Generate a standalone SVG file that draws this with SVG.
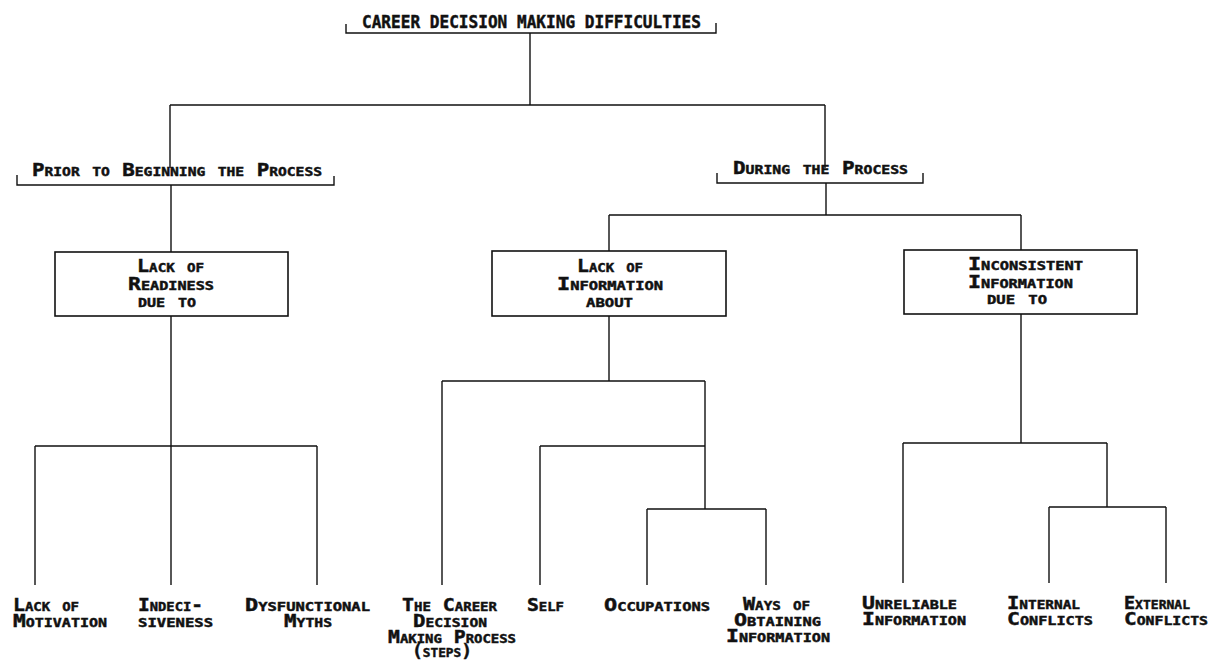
<svg xmlns="http://www.w3.org/2000/svg" width="1210" height="660" viewBox="0 0 1210 660">
<style>
text{font-family:"DejaVu Sans Mono","Liberation Mono",monospace;font-weight:bold;font-size:17px;font-variant:small-caps;fill:#111;stroke:#111;stroke-width:0.45}
.ln{fill:none;stroke:#111;stroke-width:1.4}
.box{fill:#fff;stroke:#111;stroke-width:1.6}
</style>
<rect width="1210" height="660" fill="#fff"/>
<g id="connectors" class="ln">
<path d="M530,33V105M170,105H825M170,105V168M825,105V168"/>
<path d="M171,185V252M171,316V446M35,446H317M35,446V585M171,446V585M317,446V585"/>
<path d="M826,183V215M609,215H1021M609,215V251M1021,215V250"/>
<path d="M609,316V381M442,381H705M442,381V585M705,381V509M540,446H705M540,446V585M647,509H766M647,509V585M766,509V585"/>
<path d="M1021,314V443M903,443H1107M903,443V583M1107,443V507M1049,507H1166M1049,507V583M1166,507V583"/>
</g>
<g id="root">
<text x="362" y="28" textLength="339" lengthAdjust="spacingAndGlyphs">CAREER DECISION MAKING DIFFICULTIES</text>
<path class="ln" d="M346,24V33H716V23"/>
</g>
<g id="prior">
<text x="32" y="176" textLength="290" lengthAdjust="spacingAndGlyphs">Prior to Beginning the Process</text>
<path class="ln" d="M17,175V185H334V176"/>
</g>
<g id="during">
<text x="733" y="174" textLength="175" lengthAdjust="spacingAndGlyphs">During the Process</text>
<path class="ln" d="M717,173V183H923V173"/>
</g>
<g id="readiness">
<rect class="box" x="55" y="252" width="233" height="64"/>
<text x="137" y="272" textLength="67" lengthAdjust="spacingAndGlyphs">Lack of</text>
<text x="128" y="290" textLength="86" lengthAdjust="spacingAndGlyphs">Readiness</text>
<text x="138" y="307" textLength="58" lengthAdjust="spacingAndGlyphs">due to</text>
</g>
<g id="information">
<rect class="box" x="492" y="251" width="234" height="65"/>
<text x="577" y="272" textLength="66" lengthAdjust="spacingAndGlyphs">Lack of</text>
<text x="557" y="290" textLength="106" lengthAdjust="spacingAndGlyphs">Information</text>
<text x="586" y="307" textLength="47" lengthAdjust="spacingAndGlyphs">about</text>
</g>
<g id="inconsistent">
<rect class="box" x="904" y="250" width="233" height="64"/>
<text x="968" y="270" textLength="115" lengthAdjust="spacingAndGlyphs">Inconsistent</text>
<text x="968" y="288" textLength="105" lengthAdjust="spacingAndGlyphs">Information</text>
<text x="987" y="304" textLength="60" lengthAdjust="spacingAndGlyphs">due to</text>
</g>
<g id="motivation">
<text x="13" y="611" textLength="66" lengthAdjust="spacingAndGlyphs">Lack of</text>
<text x="13" y="627" textLength="94" lengthAdjust="spacingAndGlyphs">Motivation</text>
</g>
<g id="indecisiveness">
<text x="138" y="611" textLength="65" lengthAdjust="spacingAndGlyphs">Indeci-</text>
<text x="138" y="627" textLength="75" lengthAdjust="spacingAndGlyphs">siveness</text>
</g>
<g id="myths">
<text x="245" y="611" textLength="125" lengthAdjust="spacingAndGlyphs">Dysfunctional</text>
<text x="284" y="627" textLength="48" lengthAdjust="spacingAndGlyphs">Myths</text>
</g>
<g id="steps">
<text x="402" y="611" textLength="95" lengthAdjust="spacingAndGlyphs">The Career</text>
<text x="413" y="627" textLength="74" lengthAdjust="spacingAndGlyphs">Decision</text>
<text x="388" y="643" textLength="128" lengthAdjust="spacingAndGlyphs">Making Process</text>
<text x="412" y="657" textLength="60" lengthAdjust="spacingAndGlyphs">(steps)</text>
</g>
<g id="self">
<text x="527" y="611" textLength="37" lengthAdjust="spacingAndGlyphs">Self</text>
</g>
<g id="occupations">
<text x="604" y="611" textLength="106" lengthAdjust="spacingAndGlyphs">Occupations</text>
</g>
<g id="ways">
<text x="743" y="610" textLength="67" lengthAdjust="spacingAndGlyphs">Ways of</text>
<text x="734" y="626" textLength="87" lengthAdjust="spacingAndGlyphs">Obtaining</text>
<text x="726" y="642" textLength="104" lengthAdjust="spacingAndGlyphs">Information</text>
</g>
<g id="unreliable">
<text x="862" y="609" textLength="95" lengthAdjust="spacingAndGlyphs">Unreliable</text>
<text x="862" y="625" textLength="104" lengthAdjust="spacingAndGlyphs">Information</text>
</g>
<g id="internal">
<text x="1007" y="609" textLength="73" lengthAdjust="spacingAndGlyphs">Internal</text>
<text x="1007" y="625" textLength="86" lengthAdjust="spacingAndGlyphs">Conflicts</text>
</g>
<g id="external">
<text x="1124" y="609" textLength="66" lengthAdjust="spacingAndGlyphs">External</text>
<text x="1124" y="625" textLength="84" lengthAdjust="spacingAndGlyphs">Conflicts</text>
</g>
</svg>
